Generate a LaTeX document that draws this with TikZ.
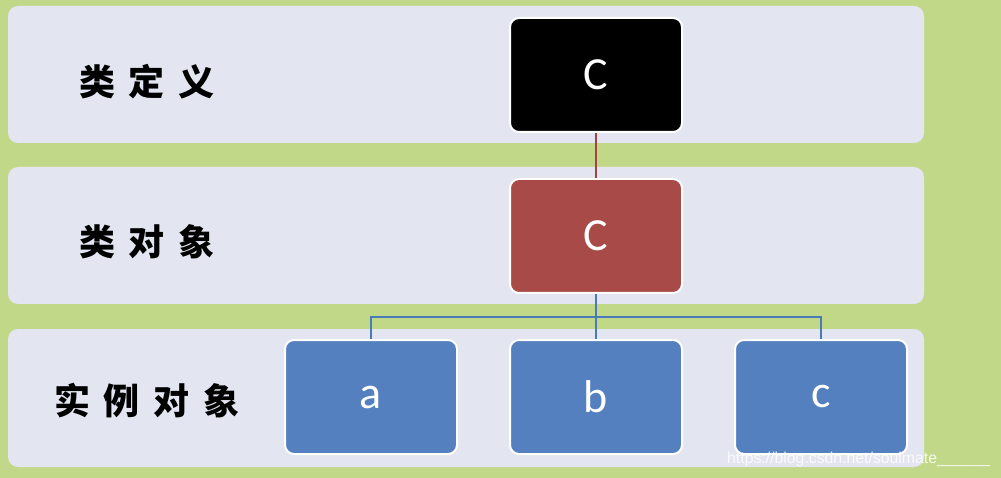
\documentclass[tikz,border=0pt]{standalone}
\usepackage{fontspec}
\setmainfont{Carlito}
\newfontfamily\cjkfont{Noto Sans CJK SC}
\newfontfamily\wmfont{Liberation Sans}
\definecolor{bggreen}{HTML}{C2D889}
\definecolor{bandgray}{HTML}{E3E5F0}
\definecolor{boxred}{HTML}{A84A48}
\definecolor{boxblue}{HTML}{5580C0}
\definecolor{linered}{HTML}{A24444}
\definecolor{lineblue}{HTML}{4A7AB8}
\tikzset{
  band/.style={fill=bandgray, draw=none, rounded corners=10pt},
  cbox/.style={draw=white, line width=2pt, rounded corners=9pt, minimum width=172pt, minimum height=114pt, inner sep=0pt, text=white, font=\fontsize{46}{46}\selectfont},
  lbl/.style={font=\cjkfont\bfseries\fontsize{36}{36}\selectfont, text=black, inner sep=0pt},
  conn/.style={line width=2.4pt}
}
\begin{document}
\begin{tikzpicture}[x=1pt,y=-1pt]
\fill[bggreen] (0,0) rectangle (1001,478);
\useasboundingbox (0,0) rectangle (1001,478);
% bands
\fill[band] (8,6) rectangle (924,143);
\fill[band] (8,167) rectangle (924,304);
\fill[band] (8,329) rectangle (924,467);
% labels
\node[lbl] (l1) at (147,82) {类\hspace{14pt}定\hspace{14pt}义};
\node[lbl] (l2) at (147,242) {类\hspace{14pt}对\hspace{14pt}象};
\node[lbl] (l3) at (147,401) {实\hspace{14pt}例\hspace{14pt}对\hspace{14pt}象};
% boxes
\node[cbox, fill=black] (def) at (596,75) {C};
\node[cbox, fill=boxred] (cls) at (596,236) {C};
\node[cbox, fill=boxblue] (ia) at (371,397) {a};
\node[cbox, fill=boxblue] (ib) at (596,397) {b};
\node[cbox, fill=boxblue] (ic) at (821,397) {c};
% connectors
\draw[conn, linered] (def.south) -- (cls.north);
\coordinate (hub) at (596,317);
\draw[conn, lineblue] (cls.south) -- (hub);
\draw[conn, lineblue] (hub) -- (ib.north);
\draw[conn, lineblue] (ia.north) |- (hub) -| (ic.north);
% watermark
\node[anchor=west, inner sep=0pt, text=white, opacity=0.85, font=\wmfont\fontsize{15.8}{16}\selectfont] (wm) at (727,459) {https://blog.csdn.net/soulmate\_\_\_\_\_\_};
\end{tikzpicture}
\end{document}
